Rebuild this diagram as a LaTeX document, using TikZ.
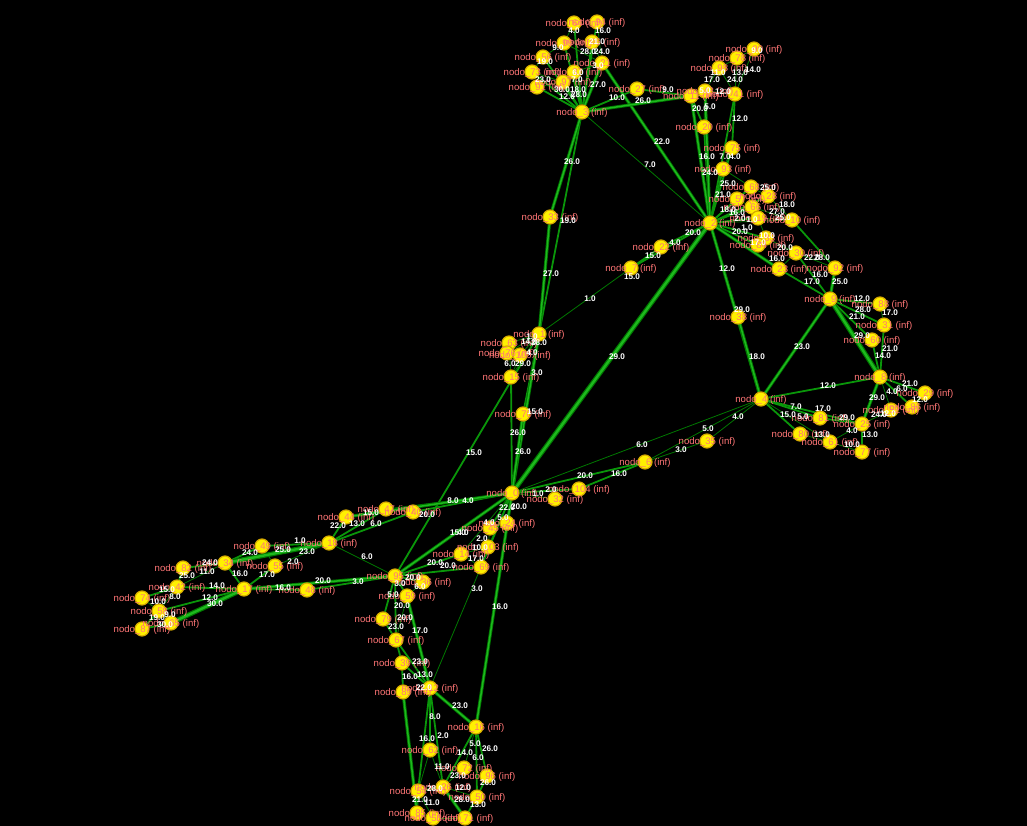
\documentclass[tikz,border=0pt]{standalone}
\usepackage{fontspec}
\setmainfont{Liberation Sans}
\pgfdeclarelayer{back}
\pgfdeclarelayer{edges}
\pgfdeclarelayer{front}
\pgfsetlayers{back,edges,main,front}
\definecolor{edgeD}{RGB}{0,120,0}
\definecolor{edgeM}{RGB}{10,150,10}
\definecolor{edgeL}{RGB}{30,185,30}
\definecolor{nodeY}{RGB}{255,240,0}
\definecolor{nodeO}{RGB}{215,170,0}
\definecolor{labP}{RGB}{255,118,118}
\tikzset{
 dot/.style={circle, fill=nodeY, draw=nodeO, line width=1.2pt, inner sep=0pt, minimum size=14pt},
 lab/.style={text=labP, font=\fontsize{9.6}{10}\selectfont, inner sep=0pt},
 wt/.style={text=white, font=\bfseries\fontsize{8.2}{9}\selectfont, inner sep=0pt},
 e1/.style={draw=edgeD, line width=0.8pt},
 e2/.style={draw=edgeM, line width=1.8pt},
 e3/.style={draw=edgeD, line width=3.2pt, postaction={draw=edgeL, line width=1.5pt}},
 e4/.style={draw=edgeD, line width=4.8pt, postaction={draw=edgeL, line width=2.4pt}},
}
\begin{document}
\begin{tikzpicture}[x=1pt,y=-1pt]
\useasboundingbox (0,0) rectangle (1027,826);
\begin{pgfonlayer}{back}
\fill[black] (0,0) rectangle (1027,826);
\end{pgfonlayer}
% nodes
\foreach \n/\x/\y in {
64/574/23, 94/597/22, 99/564/43, 46/592/42, 56/543/57, 21/602/63, 73/532/72, 37/574/72, 91/537/87, 97/563/82, 3/582/112, 27/637/89,
90/754/49, 78/737/58, 98/719/68, 11/691/96, 43/705/91, 41/735/94, 20/704/127, 75/732/148, 93/723/169, 2/710/223,
68/751/187, 28/768/196, 57/737/199, 66/752/207, 19/758/218, 10/792/220, 83/766/238, 84/758/245, 30/796/253, 23/779/269, 92/835/268,
22/661/247, 7/631/268, 33/550/217, 1/539/334, 63/509/343, 76/507/353, 100/520/355, 15/511/377, 70/523/414,
9/830/299, 88/880/304, 31/884/325, 60/872/340, 38/738/317, 8/880/377, 4/761/399, 29/925/393, 86/912/407, 52/891/410,
81/820/418, 25/862/424, 80/800/434, 61/830/442, 77/862/452, 35/707/441, 6/645/462,
0/512/493, 104/579/489, 32/555/499, 24/507/523, 45/490/528, 103/488/547, 14/461/554, 69/481/567,
44/346/517, 47/386/509, 40/413/512, 18/329/543, 95/395/576, 36/423/582, 59/407/596, 48/307/590,
79/383/619, 67/396/640, 39/402/663, 89/403/692, 12/430/688, 16/476/727, 62/430/750, 72/464/768, 96/487/776,
26/443/787, 54/418/791, 50/477/797, 85/417/813, 53/433/818, 71/465/818,
49/262/546, 34/225/563, 55/275/566, 82/183/568, 42/177/587, 17/244/589, 74/142/598, 58/159/611, 65/171/623, 87/142/629}
{\node[dot] (n\n) at (\x,\y) {};
 \begin{pgfonlayer}{front}\node[lab] (l\n) at (\x,\y+1.5) {nodo\_\n{} (inf)};\end{pgfonlayer}}
% edges
\begin{pgfonlayer}{edges}
\foreach \a/\b in {64/99, 94/21, 99/56, 99/21, 46/21, 56/73, 21/37, 73/97, 37/97, 91/97, 3/2,
 98/43, 98/41, 78/41, 90/41, 78/98, 90/78, 43/41, 43/20, 75/93,
 93/68, 2/10, 28/10, 66/10, 19/10, 83/30, 30/23, 30/92, 83/19, 84/83, 68/28, 57/66, 7/1,
 88/31, 8/52, 52/25, 4/61, 80/61, 61/25, 61/77, 4/35, 4/6, 4/0, 6/35,
 0/32, 1/63, 1/76, 1/100, 1/15, 100/15, 63/15, 0/47, 0/103, 0/14, 45/24, 45/103, 14/103, 14/69, 69/12,
 18/95, 44/47, 18/55, 36/59, 59/67, 62/54, 16/72, 62/26, 72/26, 26/50, 54/53, 85/53, 53/71,
 34/42, 42/58, 74/58, 58/65, 49/55}
 \draw[e1] (n\a) -- (n\b);
\foreach \a/\b in {3/64, 3/94, 3/99, 3/46, 3/56, 3/73, 3/37, 3/91, 3/97, 3/27, 27/11, 3/1,
 11/20, 41/75, 20/2, 41/2, 75/2, 93/2,
 2/68, 2/57, 2/66, 2/28, 2/19, 2/83, 2/84, 10/92, 2/38, 30/9, 23/9, 2/22, 22/7, 2/7,
 9/88, 9/31, 9/60, 31/8, 60/8, 8/4, 8/29, 8/86, 29/86, 4/81, 4/25, 4/80, 81/25, 25/77,
 0/104, 104/6, 0/6, 0/15, 70/1, 95/1, 0/40, 0/24, 0/45, 0/69, 95/14, 95/69,
 18/44, 18/47, 18/40, 18/49, 48/95, 17/48, 95/36, 95/59, 95/79, 95/67, 79/67, 67/12, 39/12, 67/39, 39/89,
 12/62, 12/26, 12/54, 16/26, 16/96, 16/50, 96/50, 50/71, 54/85, 54/26,
 49/34, 34/82, 82/42, 34/17, 55/17, 42/17, 42/74, 17/58, 58/87, 87/65}
 \draw[e2] (n\a) -- (n\b);
\foreach \a/\b in {3/21, 21/2, 3/11, 3/33, 33/1, 11/2, 43/2, 92/9, 2/23, 2/4, 38/4, 9/4, 8/25,
 0/1, 0/70, 0/95, 0/16, 44/0, 17/95, 59/12, 89/85, 12/16, 26/71}
 \draw[e3] (n\a) -- (n\b);
\foreach \a/\b in {2/0, 9/8, 18/34, 17/65}
 \draw[e4] (n\a) -- (n\b);
\end{pgfonlayer}
% weights
\begin{pgfonlayer}{front}
\foreach \x/\y/\w [count=\i] in {
574/31/4.0, 603/31/16.0, 558/48/9.0, 597/42/21.0, 588/52/28.0, 602/52/24.0, 545/62/19.0, 598/66/3.0, 543/80/23.0, 578/73/6.0,
577/80/7.0, 598/85/27.0, 562/90/30.0, 578/90/18.0, 567/97/12.0, 579/95/28.0, 617/98/10.0, 643/101/26.0, 668/90/9.0, 572/162/26.0,
662/142/22.0, 650/165/7.0, 568/221/19.0, 551/274/27.0,
757/51/9.0, 718/73/11.0, 740/73/13.0, 753/70/14.0, 712/80/17.0, 735/80/24.0, 705/91/5.0, 723/92/12.0, 700/109/20.0, 710/107/5.0,
740/119/12.0, 707/157/16.0, 725/157/7.0, 735/157/4.0, 710/173/24.0,
728/184/25.0, 768/188/25.0, 723/195/21.0, 728/210/18.0, 737/213/16.0, 740/219/2.0, 752/220/1.0, 740/232/20.0, 747/228/1.0,
767/236/10.0, 758/243/17.0, 787/205/18.0, 777/212/27.0, 783/218/25.0, 785/248/20.0, 777/259/16.0, 812/258/22.0, 822/258/28.0,
727/269/12.0, 820/275/16.0, 812/282/17.0, 840/282/25.0, 693/233/20.0, 675/243/4.0, 653/256/15.0, 632/277/15.0, 590/299/1.0,
617/357/29.0, 742/310/29.0, 757/357/18.0,
862/299/12.0, 863/310/28.0, 890/313/17.0, 857/317/21.0, 862/336/29.0, 890/349/21.0, 883/356/14.0, 802/347/23.0, 828/386/12.0,
910/384/21.0, 902/389/6.0, 892/392/4.0, 877/398/29.0, 920/400/12.0, 879/415/24.0, 888/414/12.0, 796/407/7.0, 823/409/17.0,
788/415/15.0, 803/417/5.0, 847/418/29.0, 822/435/13.0, 852/431/4.0, 870/435/13.0, 852/445/10.0, 708/429/5.0, 738/417/4.0,
642/445/6.0, 681/450/3.0, 619/474/16.0, 585/476/20.0, 538/494/1.0, 551/490/2.0,
535/412/15.0, 518/433/26.0, 523/452/26.0, 474/453/15.0, 537/373/3.0, 532/337/1.0, 529/342/14.0, 539/343/28.0, 532/353/4.0,
523/364/29.0, 510/364/6.0,
507/508/22.0, 519/507/20.0, 453/501/8.0, 468/501/4.0, 463/533/4.0, 489/523/4.0, 503/518/5.0, 458/533/15.0, 482/539/2.0,
480/548/10.0, 476/559/17.0, 435/563/20.0, 448/566/20.0, 477/589/3.0, 500/607/16.0, 367/557/6.0, 338/526/22.0, 357/524/13.0,
376/524/6.0, 371/513/15.0, 427/515/20.0, 323/581/20.0, 358/582/3.0, 413/578/20.0, 400/584/3.0, 420/587/6.0, 393/595/5.0,
402/606/20.0, 405/618/20.0, 396/627/23.0, 420/631/17.0, 420/662/23.0, 425/675/13.0, 410/677/16.0, 424/688/22.0,
460/706/23.0, 435/717/8.0, 427/739/16.0, 443/736/2.0, 475/744/5.0, 490/749/26.0, 465/753/14.0, 478/758/6.0, 442/767/11.0,
458/776/23.0, 488/783/26.0, 463/788/12.0, 435/789/28.0, 462/800/28.0, 478/805/13.0, 420/800/21.0, 432/803/11.0,
300/541/1.0, 283/550/25.0, 250/553/24.0, 307/552/23.0, 293/562/2.0, 210/563/24.0, 207/572/11.0, 187/576/25.0, 240/574/16.0,
267/575/17.0, 217/586/14.0, 167/590/15.0, 175/597/8.0, 283/588/16.0, 158/602/10.0, 210/598/12.0, 215/604/30.0, 157/618/19.0,
170/615/9.0, 165/625/30.0}
 \node[wt] (w\i) at (\x,\y) {\w};
\end{pgfonlayer}
\end{tikzpicture}
\end{document}
